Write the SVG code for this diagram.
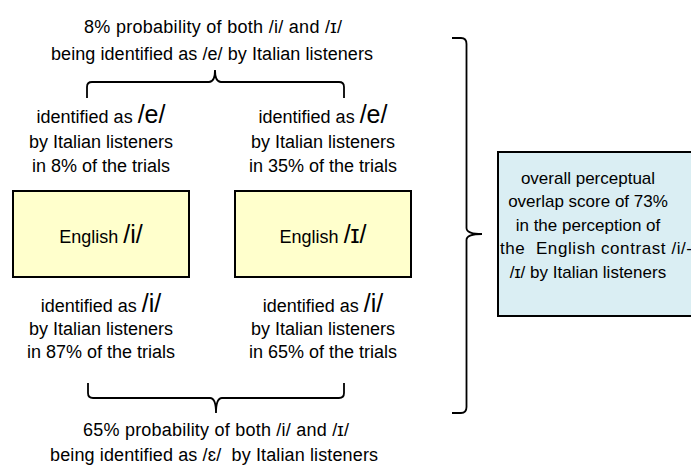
<svg xmlns="http://www.w3.org/2000/svg" width="691" height="466" viewBox="0 0 691 466">
<style>
text{font-family:"Liberation Sans",Arial,sans-serif;font-size:18px;fill:#000;text-anchor:middle;white-space:pre}
.big{font-size:25px}
.ov{font-size:17px}
.box{stroke:#000;stroke-width:2}
.brace{fill:none;stroke:#000;stroke-width:1.8}
</style>
<rect width="691" height="466" fill="#fff"/>
<g id="top-label">
<text x="213" y="33" textLength="258">8% probability of both /i/ and /ɪ/</text>
<text x="212" y="60" textLength="322">being identified as /e/ by Italian listeners</text>
</g>
<g id="left-e">
<text x="101" y="123">identified as <tspan class="big">/e/</tspan></text>
<text x="101" y="148">by Italian listeners</text>
<text x="101" y="172">in 8% of the trials</text>
</g>
<g id="right-e">
<text x="323" y="123">identified as <tspan class="big">/e/</tspan></text>
<text x="323" y="148">by Italian listeners</text>
<text x="323" y="172">in 35% of the trials</text>
</g>
<g id="node-i">
<rect class="box" x="13" y="191" width="176" height="86" fill="#FFFFCC"/>
<text x="101" y="243">English <tspan class="big">/i/</tspan></text>
</g>
<g id="node-I">
<rect class="box" x="235" y="191" width="176" height="86" fill="#FFFFCC"/>
<text x="323" y="243">English <tspan class="big">/ɪ/</tspan></text>
</g>
<g id="left-i">
<text x="101" y="312">identified as <tspan class="big">/i/</tspan></text>
<text x="101" y="335">by Italian listeners</text>
<text x="101" y="358">in 87% of the trials</text>
</g>
<g id="right-i">
<text x="323" y="312">identified as <tspan class="big">/i/</tspan></text>
<text x="323" y="335">by Italian listeners</text>
<text x="323" y="358">in 65% of the trials</text>
</g>
<g id="bottom-label">
<text x="216" y="436" textLength="266">65% probability of both /i/ and /ɪ/</text>
<text x="214" y="461" textLength="328">being identified as /ɛ/  by Italian listeners</text>
</g>
<g id="overall">
<rect class="box" x="498" y="152" width="210" height="164" fill="#DAEEF3"/>
<text class="ov" x="588" y="184">overall perceptual</text>
<text class="ov" x="588" y="207">overlap score of 73%</text>
<text class="ov" x="588" y="231">in the perception of</text>
<text class="ov" x="500" y="254" style="text-anchor:start" textLength="192">the  English contrast /i/-</text>
<text class="ov" x="588" y="278">/ɪ/ by Italian listeners</text>
</g>
<g id="connectors">
<path class="brace" d="M87,98 V87 Q87,82 92,82 H209 Q215,82 215,70 Q215,82 221,82 H339 Q344,82 344,87 V98"/>
<path class="brace" d="M88,383 V393 Q88,398 93,398 H210 Q216,398 216,413 Q216,398 222,398 H339 Q344,398 344,393 V383"/>
<path class="brace" d="M452,38 H461 Q466.5,38 466.5,44 V228 Q466.5,234 482,234 Q466.5,234 466.5,240 V407 Q466.5,413 461,413 H452"/>
</g>
</svg>
